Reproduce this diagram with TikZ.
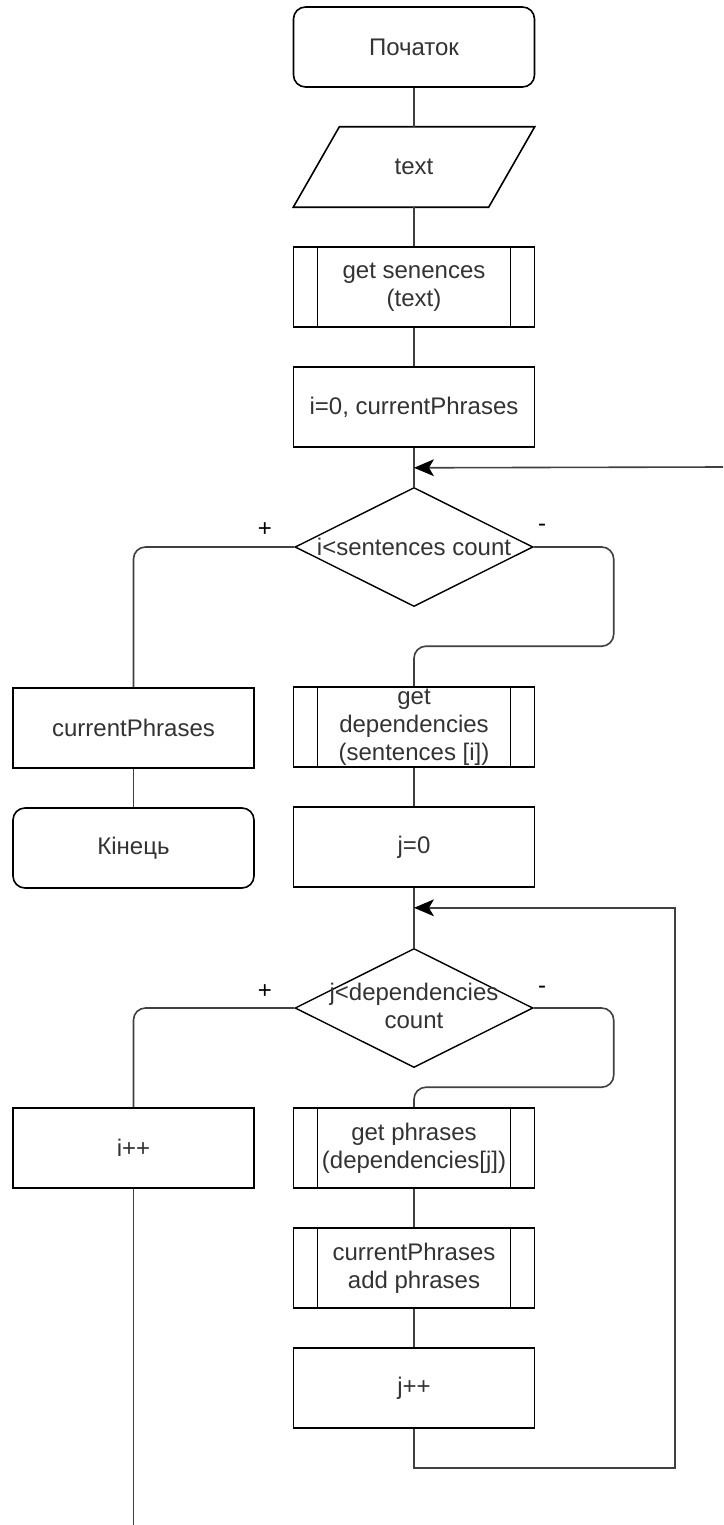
\documentclass[tikz,border=0pt]{standalone}
\usepackage{fontspec}
\setmainfont{Liberation Sans}
\usetikzlibrary{shapes.geometric,arrows.meta,calc}
\begin{document}
\begin{tikzpicture}[x=1pt,y=-1pt,
  every node/.style={font=\fontsize{24}{28}\selectfont, text=black!80, align=center},
  box/.style={draw=black, line width=1.6pt, minimum width=241pt, minimum height=80pt, inner sep=0pt},
  term/.style={box, rounded corners=12pt},
  sub/.style={box, path picture={
      \draw[line width=1.6pt] ([xshift=24pt]path picture bounding box.south west) -- ([xshift=24pt]path picture bounding box.north west);
      \draw[line width=1.6pt] ([xshift=-24pt]path picture bounding box.south east) -- ([xshift=-24pt]path picture bounding box.north east);}},
  dia/.style={diamond, draw=black, line width=1.4pt, minimum width=238pt, minimum height=119pt, inner sep=0pt, aspect=2},
  conn/.style={draw=black!75, line width=1.6pt},
  tip/.style={-{Stealth[length=20pt,width=17pt,inset=5pt,fill=black,line width=0pt]}},
  lbl/.style={font=\fontsize{24}{26}\selectfont, text=black}
]
\fill[white] (0,0) rectangle (723,1525);
\useasboundingbox (0,0) rectangle (723,1525);

% main column
\node[term] (start) at (414,47) {Початок};
\node[minimum width=241pt, minimum height=80pt, inner sep=0pt] (input) at (414,167) {text};
\draw[line width=1.6pt] (input.south west) -- ($(input.north west)+(46,0)$) -- (input.north east) -- ($(input.south east)+(-46,0)$) -- cycle;
\node[sub] (getsent) at (414,287) {get senences\\(text)};
\node[box] (init) at (414,407) {i=0, currentPhrases};
\node[dia] (d1) at (414,547) {};
\node (d1t) at (414,547) {i<sentences count};
\node[lbl] (p1) at (265,530) {+};
\node[lbl] (m1) at (542,528) {-};

% left branch 1
\node[box] (curph) at (133.5,728) {currentPhrases};
\node[term] (end) at (133.5,848) {Кінець};

% right branch 1
\node[sub] (getdep) at (414,727) {get\\dependencies\\(sentences [i])};
\node[box] (j0) at (414,847) {j=0};
\node[dia] (d2) at (414,1008) {};
\node (d2t) at (414,1006) {j<dependencies\\count};
\node[lbl] (p2) at (265,992) {+};
\node[lbl] (m2) at (542,990) {-};

\node[box] (ipp) at (133.5,1148) {i++};
\node[sub] (getph) at (414,1148) {get phrases\\(dependencies[j])};
\node[sub] (addph) at (414,1268) {currentPhrases\\add phrases};
\node[box] (jpp) at (414,1388) {j++};

\coordinate (r1) at (723,467);
\coordinate (r2) at (675,1468);
\coordinate (bot) at (133.5,1525);

% connectors
\draw[conn] (start) -- (input);
\draw[conn] (input) -- (getsent);
\draw[conn] (getsent) -- (init);
\draw[conn] (init.south) -- (d1.north);
\draw[conn,tip] (r1) -- ($(init.south)+(0,20)$);
\draw[conn, rounded corners=12pt] (d1.west) -| (curph.north);
\draw[conn, rounded corners=12pt] (d1.east) -- ++(80,0) |- ($(getdep.north)+(0,-40)$) -- (getdep.north);
\draw[conn] (curph) -- (end);
\draw[conn] (getdep) -- (j0);
\draw[conn] (j0.south) -- (d2.north);
\draw[conn, rounded corners=12pt] (d2.west) -| (ipp.north);
\draw[conn, rounded corners=12pt] (d2.east) -- ++(80,0) |- ($(getph.north)+(0,-20)$) -- (getph.north);
\draw[conn] (getph) -- (addph);
\draw[conn] (addph) -- (jpp);
\draw[conn,tip] (jpp.south) |- (r2) |- ($(j0.south)+(0,20)$);
\draw[conn] (ipp.south) -- (bot);
\end{tikzpicture}
\end{document}
